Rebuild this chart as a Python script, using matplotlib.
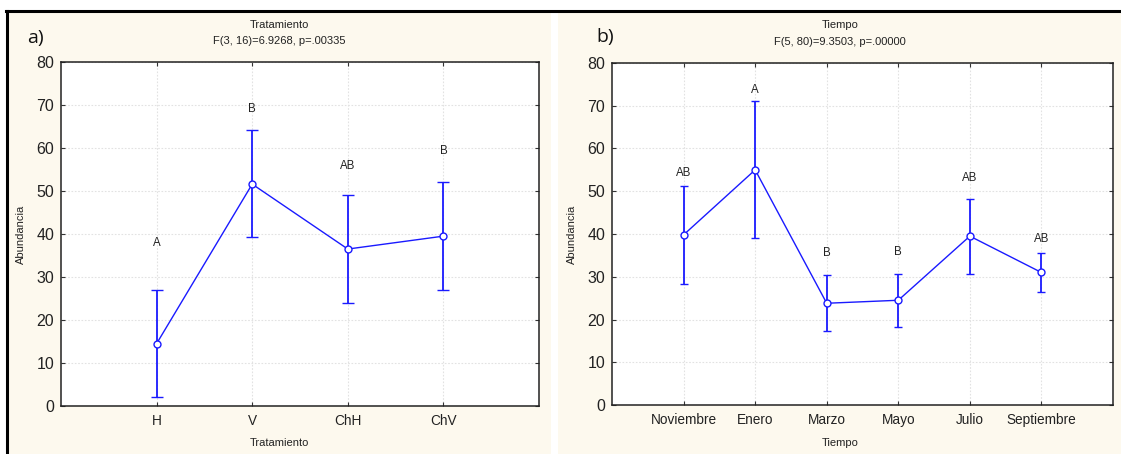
import matplotlib
matplotlib.use("Agg")
import matplotlib.pyplot as plt
from matplotlib.patches import Rectangle
from matplotlib.lines import Line2D

plt.rcParams['font.family'] = ['Liberation Sans', 'DejaVu Sans']

# ---- data ----
trat_cats = ["H", "V", "ChH", "ChV"]
trat_mean = [14.5, 51.6, 36.5, 39.5]
trat_low = [2.0, 39.2, 24.0, 27.0]
trat_high = [27.0, 64.2, 49.0, 52.0]
trat_letters = ["A", "B", "AB", "B"]
trat_letter_y = [37.8, 69.0, 55.8, 59.2]

tiempo_cats = ["Noviembre", "Enero", "Marzo", "Mayo", "Julio", "Septiembre"]
tiempo_mean = [39.8, 55.0, 23.8, 24.5, 39.5, 31.0]
tiempo_low = [28.3, 39.0, 17.3, 18.3, 30.6, 26.5]
tiempo_high = [51.2, 71.0, 30.4, 30.7, 48.2, 35.5]
tiempo_letters = ["AB", "A", "B", "B", "AB", "AB"]
tiempo_letter_y = [54.3, 73.8, 35.5, 35.8, 53.0, 38.8]

W, H = 1121, 454
fig = plt.figure(figsize=(W / 100, H / 100), dpi=100)
fig.patch.set_facecolor("white")

BEIGE = "#FDF9EE"

def fx(px):
    return px / W

def fy(py):
    return (H - py) / H

# panel backgrounds
fig.add_artist(Rectangle((fx(7), 0), fx(551) - fx(7), fy(12), transform=fig.transFigure,
                         facecolor=BEIGE, edgecolor="none", zorder=0))
fig.add_artist(Rectangle((fx(558), 0), fx(1121) - fx(558), fy(12), transform=fig.transFigure,
                         facecolor=BEIGE, edgecolor="none", zorder=0))
# outer black borders
fig.add_artist(Line2D([fx(6), fx(1121)], [fy(11), fy(11)], transform=fig.transFigure,
                      color="black", lw=2.2, zorder=5))
fig.add_artist(Line2D([fx(6.5), fx(6.5)], [fy(11), 0], transform=fig.transFigure,
                      color="black", lw=2.2, zorder=5))


def make_panel(box, cats, mean, low, high, letters, letter_y, capsize, title, ftext,
               xlabel, tag, center_x, tag_x, tag_y, title_y, f_y):
    x0, x1, ytop, ybot = box
    ax = fig.add_axes([fx(x0), fy(ybot), fx(x1) - fx(x0), fy(ytop) - fy(ybot)])
    ax.set_facecolor("white")
    xs = list(range(1, len(cats) + 1))
    yerr = [[m - l for m, l in zip(mean, low)], [h - m for h, m in zip(high, mean)]]
    ax.errorbar(xs, mean, yerr=yerr, color="#1A1AFF", ecolor="#1A1AFF", elinewidth=1.3,
                capsize=capsize, capthick=1.3, lw=1.0, marker="o", ms=5.0,
                mfc="white", mec="#1A1AFF", mew=1.0, zorder=3)
    for x, t, ly in zip(xs, letters, letter_y):
        ax.text(x, ly, t, ha="center", va="center", fontsize=8.3, color="#222222")
    ax.set_xlim(0, len(cats) + 1)
    ax.set_ylim(0, 80)
    ax.set_xticks(xs)
    ax.set_xticklabels(cats, fontsize=9.8, color="#222222")
    ax.set_yticks(range(0, 81, 10))
    ax.tick_params(axis="y", labelsize=11.5, labelcolor="#222222", pad=5)
    ax.tick_params(axis="x", pad=6)
    ax.tick_params(direction="in", length=3, width=0.8, color="#333333",
                   top=True, right=True)
    ax.grid(True, color="#e2e2e2", linestyle=(0, (1.5, 1.5)), linewidth=0.8)
    ax.set_axisbelow(True)
    for s in ax.spines.values():
        s.set_color("#222222")
        s.set_linewidth(1.1)
    fig.text(fx(center_x), fy(title_y), title, ha="center", va="center", fontsize=8, color="#222222")
    fig.text(fx(center_x), fy(f_y), ftext, ha="center", va="center", fontsize=8, color="#222222")
    fig.text(fx(center_x), fy(443), xlabel, ha="center", va="center", fontsize=8, color="#222222")
    fig.text(fx(x0 - 40), fy((ytop + ybot) / 2), "Abundancia", ha="center", va="center",
             rotation=90, fontsize=8, color="#222222")
    fig.text(fx(tag_x), fy(tag_y), tag, ha="left", va="center", fontsize=14,
             family=["Open Sans", "DejaVu Sans"], color="#111111")
    return ax

make_panel((61, 539, 62, 406), trat_cats, trat_mean, trat_low, trat_high, trat_letters,
           trat_letter_y, 4.0, "Tratamiento", "F(3, 16)=6.9268, p=.00335", "Tratamiento",
           "a)", 279, 27, 38, 25, 41)
make_panel((612, 1113, 63, 405), tiempo_cats, tiempo_mean, tiempo_low, tiempo_high,
           tiempo_letters, tiempo_letter_y, 3.0, "Tiempo", "F(5, 80)=9.3503, p=.00000",
           "Tiempo", "b)", 840, 596, 37, 25, 42)

fig.savefig("out.png", dpi=100, facecolor=fig.get_facecolor())
